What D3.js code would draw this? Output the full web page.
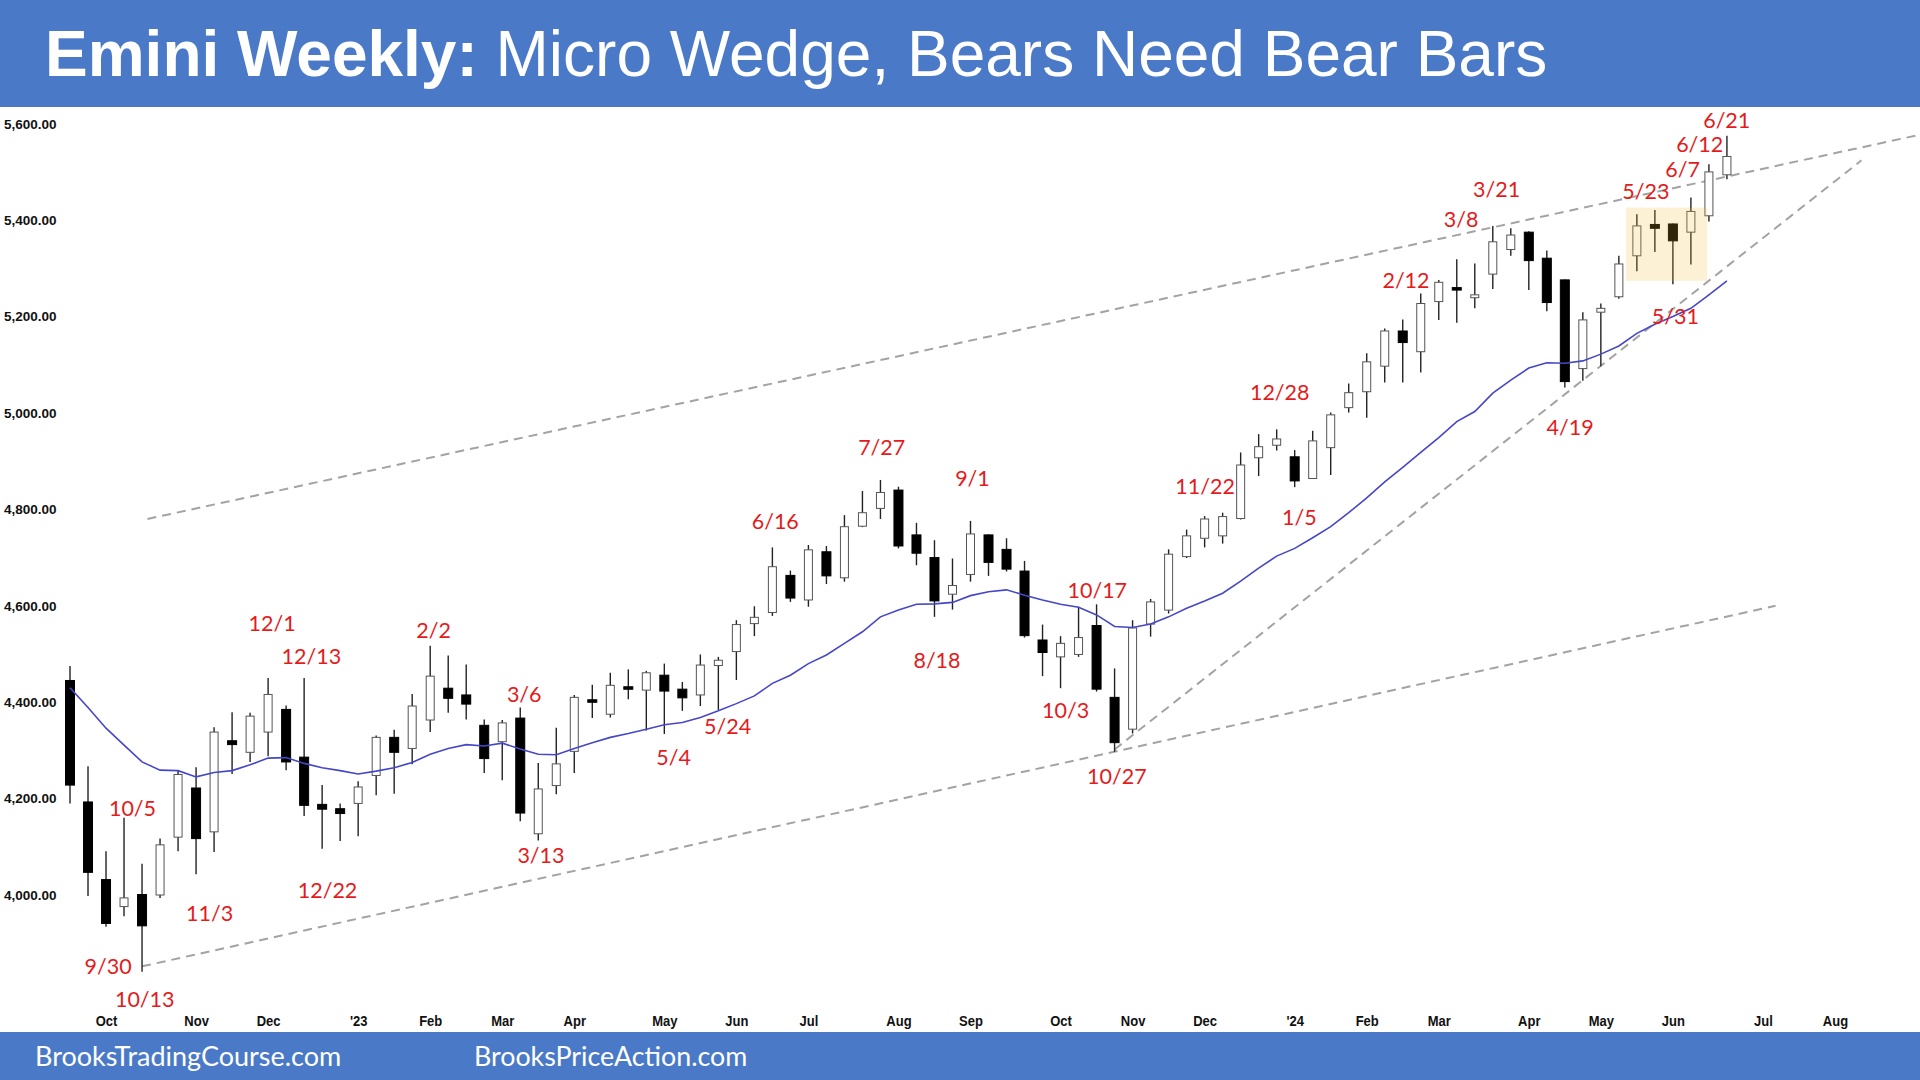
<!DOCTYPE html>
<html><head><meta charset="utf-8">
<script src="https://cdn.jsdelivr.net/npm/d3@7"></script>
<style>body{margin:0;background:#fff;}svg{display:block;}</style>
</head><body><svg id="c" width="1920" height="1080"></svg>
<script>
// Weekly bars, first bar = week of 2022-09-12
const opens  = [4445,4193,4032,3976,4001,4000,4120,4222,4131,4320,4296,4338,4385,4286,4188,4179,4190,4248,4327,4304,4363,4429,4415,4352,4318,4367,4127,4227,4298,4405,4375,4432,4425,4456,4427,4415,4476,4505,4563,4586,4663,4612,4712,4658,4765,4802,4840,4747,4700,4624,4665,4747,4717,4672,4529,4494,4499,4559,4410,4344,4562,4591,4702,4740,4745,4781,4907,4933,4909,4864,4928,5011,5044,5097,5170,5127,5231,5260,5239,5288,5339,5375,5321,5276,5092,5209,5241,5326,5391,5392,5375,5409,5494];
const highs  = [4475,4267,4091,4160,4065,4117,4257,4265,4348,4379,4378,4450,4393,4450,4228,4190,4236,4331,4343,4417,4517,4497,4478,4364,4363,4389,4274,4347,4415,4436,4461,4468,4465,4480,4442,4499,4494,4570,4599,4721,4673,4726,4724,4788,4838,4861,4847,4772,4736,4698,4776,4748,4740,4693,4561,4537,4598,4603,4470,4570,4614,4717,4758,4786,4793,4918,4956,4966,4923,4963,5001,5061,5124,5175,5194,5248,5276,5319,5310,5388,5383,5377,5337,5277,5209,5227,5326,5412,5421,5393,5447,5516,5575];
const lows   = [4190,3998,3934,3956,3841,3994,4091,4043,4089,4251,4276,4288,4259,4164,4096,4112,4122,4207,4210,4271,4338,4378,4364,4253,4238,4153,4113,4209,4253,4367,4368,4406,4341,4334,4382,4392,4384,4446,4537,4579,4608,4598,4645,4650,4763,4780,4719,4684,4577,4592,4650,4662,4671,4534,4454,4429,4494,4422,4297,4335,4536,4584,4699,4721,4729,4779,4869,4922,4846,4864,4871,5001,4990,5063,5063,5084,5193,5187,5217,5257,5326,5255,5211,5053,5067,5097,5237,5294,5334,5267,5308,5397,5485];
const closes = [4228,4047,3941,3994,3936,4104,4250,4117,4338,4312,4371,4416,4276,4186,4178,4169,4224,4327,4296,4392,4454,4408,4396,4283,4357,4170,4220,4272,4410,4404,4435,4427,4461,4423,4409,4477,4487,4561,4576,4681,4616,4716,4662,4764,4793,4835,4724,4709,4610,4642,4749,4690,4676,4538,4503,4522,4534,4427,4316,4554,4608,4707,4745,4780,4785,4892,4930,4946,4859,4942,4996,5042,5106,5170,5146,5227,5271,5256,5245,5355,5369,5316,5229,5065,5193,5217,5309,5388,5383,5357,5418,5500,5532];
const ema20  = [4430,4389,4346,4311,4276,4259,4258,4245,4254,4258,4270,4284,4285,4273,4264,4258,4251,4257,4264,4275,4292,4304,4312,4309,4315,4303,4292,4291,4304,4316,4327,4335,4344,4353,4358,4368,4382,4397,4413,4439,4456,4480,4498,4522,4546,4577,4591,4603,4604,4607,4621,4629,4633,4622,4612,4603,4597,4581,4557,4555,4562,4577,4595,4610,4626,4651,4678,4703,4719,4741,4764,4793,4824,4857,4887,4918,4949,4982,5003,5041,5068,5093,5104,5103,5108,5122,5139,5165,5184,5200,5217,5245,5274];

const monthLabels = ["Oct","Nov","Dec","'23","Feb","Mar","Apr","May","Jun","Jul","Aug","Sep","Oct","Nov","Dec","'24","Feb","Mar","Apr","May","Jun","Jul","Aug"];
const monthBarIdx = [2,7,11,16,20,24,28,33,37,41,46,50,55,59,63,68,72,76,81,85,89,94,98];
const priceTicks = [4000,4200,4400,4600,4800,5000,5200,5400,5600];

// annotation text, bar index, price level
const noteText  = ["10/5","9/30","10/13","11/3","12/1","12/13","12/22","2/2","3/6","3/13","5/4","5/24","6/16","7/27","8/18","9/1","10/17","10/3","10/27","11/22","1/5","12/28","2/12","3/8","3/21","4/19","5/23","5/31","6/7","6/12","6/21"];
const noteIdx   = [3.47,2.12,4.15,7.75,11.22,13.4,14.3,20.19,25.22,26.15,33.52,36.51,39.16,45.07,48.14,50.11,57.04,55.28,58.13,63.03,68.26,67.17,74.18,77.24,79.21,83.29,87.5,89.14,89.54,90.49,91.99];
const notePrice = [4181,3852,3784,3963,4564,4496,4010,4549,4416,4082,4287,4350,4775,4930,4488,4866,4632,4383,4246,4848,4785,5044,5275,5402,5465,4970,5460,5201,5506,5557,5608];

// trend lines: [idx1, price1, idx2, price2]
const trendLines = [[4.3,4780,102.7,5577],[4.0,3852,94.7,4600],[58.0,4302,99.47,5524]];
// highlight box: idx from/to, price from/to
const boxIdx = [86.4, 90.9];
const boxPrice = [5274, 5426];

const svg = d3.select("#c");
const x = d3.scaleLinear().domain([0, 92]).range([70, 70 + 92*18.01]);
const y = d3.scaleLinear().domain([4000, 5600]).range([895, 123.7]);
const blue = "#4a7ac7";

svg.append("rect").attr("x",0).attr("y",0).attr("width",1920).attr("height",1080).attr("fill","#fff");

// trend lines
svg.append("g").selectAll("line").data(trendLines).join("line")
  .attr("x1",d=>x(d[0])).attr("y1",d=>y(d[1]))
  .attr("x2",d=>x(d[2])).attr("y2",d=>y(d[3]))
  .attr("stroke","#a3a3a3").attr("stroke-width",2).attr("stroke-dasharray","9,6");

// candles
const bars = d3.range(opens.length).map(i=>({i,o:opens[i],h:highs[i],l:lows[i],c:closes[i]}));
const cg = svg.append("g");
cg.selectAll("line").data(bars).join("line")
  .attr("x1",d=>x(d.i)).attr("x2",d=>x(d.i))
  .attr("y1",d=>y(d.h)).attr("y2",d=>y(d.l))
  .attr("stroke","#222").attr("stroke-width",1.4);
cg.selectAll("rect").data(bars).join("rect")
  .attr("x",d=>d.c>d.o ? x(d.i)-4 : x(d.i)-4.5)
  .attr("width",d=>d.c>d.o ? 8 : 9)
  .attr("y",d=>y(Math.max(d.o,d.c)))
  .attr("height",d=>Math.max(2.5, y(Math.min(d.o,d.c))-y(Math.max(d.o,d.c))))
  .attr("fill",d=>d.c>d.o ? "#fff" : "#000")
  .attr("stroke",d=>d.c>d.o ? "#555" : "#000")
  .attr("stroke-width",1);

// EMA
svg.append("path").datum(ema20)
  .attr("d", d3.line().x((d,i)=>x(i)).y(d=>y(d)))
  .attr("fill","none").attr("stroke","#4646c8").attr("stroke-width",1.6);

// highlight box
svg.append("rect")
  .attr("x",x(boxIdx[0])).attr("width",x(boxIdx[1])-x(boxIdx[0]))
  .attr("y",y(boxPrice[1])).attr("height",y(boxPrice[0])-y(boxPrice[1]))
  .attr("fill","rgb(240,185,45)").attr("opacity",0.2);

// y axis labels
const ya = svg.append("g").attr("transform","translate(4,0)")
  .call(d3.axisRight(y).tickValues(priceTicks).tickSize(0).tickPadding(0).tickFormat(d3.format(",.2f")));
ya.select(".domain").remove();
ya.selectAll("text").attr("font-family","'Liberation Sans', Arial, sans-serif")
  .attr("font-weight","bold").attr("font-size",13.5).attr("fill","#111").attr("text-anchor","start");

// month labels
const xa = svg.append("g").attr("transform","translate(0,1021)")
  .call(d3.axisBottom(x).tickValues(monthBarIdx).tickSize(0).tickPadding(0)
    .tickFormat((d,i)=>monthLabels[i]));
xa.select(".domain").remove();
xa.selectAll("text").attr("font-family","'Liberation Sans', Arial, sans-serif")
  .attr("font-weight","bold").attr("font-size",15.5).attr("fill","#111")
  .attr("dy","0.3em").attr("transform","scale(0.84,1)");

// annotations
svg.append("g").selectAll("text").data(noteText).join("text")
  .attr("x",(d,i)=>x(noteIdx[i])).attr("y",(d,i)=>y(notePrice[i]))
  .attr("text-anchor","middle").attr("dominant-baseline","central")
  .attr("font-family","Lato, 'Open Sans', sans-serif").attr("font-size",21.5)
  .attr("fill","#e41b1b").text(d=>d);

// header
svg.append("rect").attr("x",0).attr("y",0).attr("width",1920).attr("height",107).attr("fill",blue);
const t = svg.append("text").attr("x",45).attr("y",76)
  .attr("font-family","'Liberation Sans', Arial, sans-serif").attr("font-size",64).attr("fill","#fff");
t.append("tspan").attr("font-weight","bold").text("Emini Weekly:");
t.append("tspan").text(" Micro Wedge, Bears Need Bear Bars");

// footer
svg.append("rect").attr("x",0).attr("y",1032).attr("width",1920).attr("height",48).attr("fill",blue);
svg.append("text").attr("x",35).attr("y",1066).attr("font-family","Lato, sans-serif").attr("font-size",27)
  .attr("fill","#fff").text("BrooksTradingCourse.com");
svg.append("text").attr("x",474).attr("y",1066).attr("font-family","Lato, sans-serif").attr("font-size",26.8)
  .attr("fill","#fff").text("BrooksPriceAction.com");
</script>
</body></html>
